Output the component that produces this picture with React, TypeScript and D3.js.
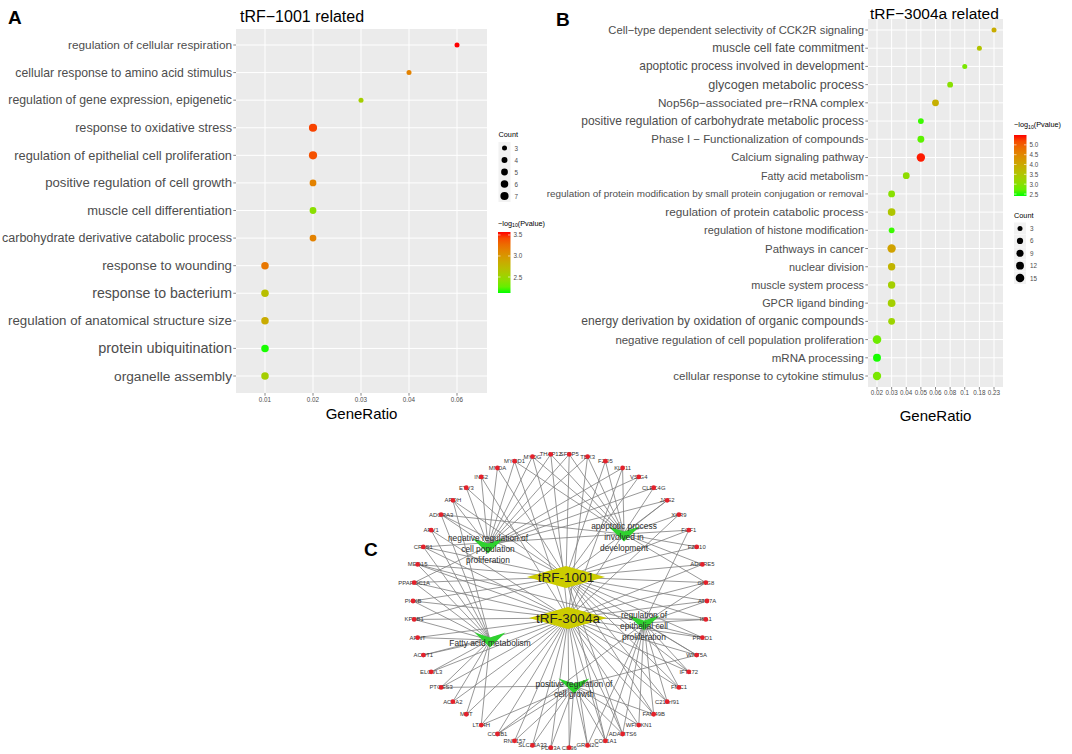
import React from "react";
import * as d3 from "d3";

const FONT = "'Liberation Sans', Arial, Helvetica, sans-serif";

// ---------- panel A : tRF-1001 related ----------
const termsA = [
  "regulation of cellular respiration",
  "cellular response to amino acid stimulus",
  "regulation of gene expression, epigenetic",
  "response to oxidative stress",
  "regulation of epithelial cell proliferation",
  "positive regulation of cell growth",
  "muscle cell differentiation",
  "carbohydrate derivative catabolic process",
  "response to wounding",
  "response to bacterium",
  "regulation of anatomical structure size",
  "protein ubiquitination",
  "organelle assembly",
];
const ratioA = ["0.06", "0.04", "0.03", "0.02", "0.02", "0.02", "0.02", "0.02", "0.01", "0.01", "0.01", "0.01", "0.01"];
const countA = [3, 3, 3, 7, 7, 5, 5, 5, 6, 6, 6, 6, 6];
const logPA = [3.57, 3.14, 2.56, 3.45, 3.4, 3.14, 2.41, 3.14, 3.21, 2.7, 2.85, 2.13, 2.56];
const ratioTicksA = ["0.01", "0.02", "0.03", "0.04", "0.06"];
const countBreaksA = [3, 4, 5, 6, 7];
const colorBreaksA = [2.5, 3.0, 3.5];

// ---------- panel B : tRF-3004a related ----------
const termsB = [
  "Cell\u2212type dependent selectivity of CCK2R signaling",
  "muscle cell fate commitment",
  "apoptotic process involved in development",
  "glycogen metabolic process",
  "Nop56p\u2212associated pre\u2212rRNA complex",
  "positive regulation of carbohydrate metabolic process",
  "Phase I \u2212 Functionalization of compounds",
  "Calcium signaling pathway",
  "Fatty acid metabolism",
  "regulation of protein modification by small protein conjugation or removal",
  "regulation of protein catabolic process",
  "regulation of histone modification",
  "Pathways in cancer",
  "nuclear division",
  "muscle system process",
  "GPCR ligand binding",
  "energy derivation by oxidation of organic compounds",
  "negative regulation of cell population proliferation",
  "mRNA processing",
  "cellular response to cytokine stimulus",
];
const ratioB = ["0.23", "0.18", "0.1", "0.08", "0.06", "0.05", "0.05", "0.05", "0.04", "0.03",
  "0.03", "0.03", "0.03", "0.03", "0.03", "0.03", "0.03", "0.02", "0.02", "0.02"];
const countB = [3, 3, 3, 5, 8, 5, 8, 14, 8, 8, 11, 5, 14, 10, 10, 11, 8, 15, 12, 14];
const logPB = [3.95, 3.55, 2.87, 3.0, 3.9, 2.5, 2.65, 5.45, 3.08, 3.0, 3.5, 2.5, 4.1, 3.8, 3.33, 3.33, 3.24, 2.77, 2.42, 2.87];
const ratioTicksB = ["0.02", "0.03", "0.04", "0.05", "0.06", "0.08", "0.1", "0.18", "0.23"];
const countBreaksB = [3, 6, 9, 12, 15];
const colorBreaksB = [2.5, 3.0, 3.5, 4.0, 4.5, 5.0];

// ---------- panel C : network ----------
const genes = [
  "PI4KB", "PPARGC1A", "MED15", "CRLS1", "ARV1", "ADORA3", "APOH", "ETV3", "ING2", "MNDA",
  "MYOD1", "MYOG", "THAP12", "SFRP5", "TBX3", "FZD5", "KLF11", "VSIG4", "CLEC4G", "JAG2",
  "XKR9", "FGF1", "FZD10", "ADGRE5", "GNG8", "ATP7A", "ISL1", "PRKD1", "WNT5A", "IFT172",
  "FMC1", "C21orf91", "FAM49B", "WFIKKN1", "ADAMTS6", "COL1A1", "GRIN2C", "CD36", "PDE3A", "SLC25A33",
  "RNF157", "CCNB1", "LTA4H", "MUT", "ACAA2", "PTGES3", "ELOVL3", "ACOT1", "ARNT", "KPNB1",
];
const tRF1001Targets = ["MED15", "CRLS1", "ADORA3", "APOH", "ETV3", "MNDA", "MYOG", "SFRP5", "FZD5", "VSIG4",
  "JAG2", "FGF1", "FZD10", "ADGRE5", "GNG8", "ATP7A", "ISL1", "PRKD1", "WNT5A", "IFT172", "FMC1",
  "C21orf91", "FAM49B", "ADAMTS6", "COL1A1", "PPARGC1A", "PI4KB", "KPNB1"];
const tRF3004aTargets = ["PI4KB", "KPNB1", "ARNT", "ACOT1", "ELOVL3", "PTGES3", "ACAA2", "MUT", "LTA4H", "CCNB1",
  "RNF157", "SLC25A33", "PDE3A", "CD36", "GRIN2C", "COL1A1", "ADAMTS6", "WFIKKN1", "FAM49B", "C21orf91",
  "FMC1", "IFT172", "WNT5A", "PRKD1", "ISL1", "ATP7A", "GNG8", "ADGRE5", "XKR9", "CLEC4G", "KLF11",
  "TBX3", "THAP12", "MYOD1", "ING2", "ARV1", "CRLS1", "MED15", "PPARGC1A"];
const negRegGenes = ["PPARGC1A", "ADORA3", "APOH", "ETV3", "ING2", "MNDA", "MYOD1", "MYOG", "THAP12", "TBX3",
  "KLF11", "VSIG4", "CLEC4G", "JAG2", "SFRP5"];
const apoptoticGenes = ["MYOD1", "MYOG", "THAP12", "SFRP5", "TBX3", "FZD5", "KLF11", "JAG2", "XKR9", "FGF1",
  "FZD10", "ADGRE5", "GNG8", "CRLS1", "ADORA3"];
const fattyGenes = ["ARV1", "CRLS1", "MED15", "PPARGC1A", "PI4KB", "KPNB1", "ARNT", "ACOT1", "ELOVL3", "PTGES3",
  "ACAA2", "MUT", "LTA4H", "APOH", "ADORA3"];
const epithelialGenes = ["ATP7A", "ISL1", "PRKD1", "WNT5A", "IFT172", "FMC1", "C21orf91", "FAM49B", "WFIKKN1",
  "ADAMTS6", "COL1A1", "GRIN2C", "GNG8", "FGF1", "MED15", "CCNB1"];
const growthGenes = ["RNF157", "SLC25A33", "PDE3A", "CD36", "GRIN2C", "COL1A1", "ADAMTS6", "WFIKKN1", "CCNB1",
  "LTA4H", "WNT5A", "PTGES3", "FAM49B"];

// hub nodes: label lines, kind, the genes they link to
const hubs = [
  { id: "negReg", lines: ["negative regulation of", "cell population", "proliferation"], kind: "go", genes: negRegGenes },
  { id: "apoptotic", lines: ["apoptotic process", "involved in", "development"], kind: "go", genes: apoptoticGenes },
  { id: "fatty", lines: ["Fatty acid metabolism"], kind: "go", genes: fattyGenes },
  { id: "epithelial", lines: ["regulation of", "epithelial cell", "proliferation"], kind: "go", genes: epithelialGenes },
  { id: "growth", lines: ["positive regulation of", "cell growth"], kind: "go", genes: growthGenes },
  { id: "tRF-1001", lines: ["tRF-1001"], kind: "trf", genes: tRF1001Targets },
  { id: "tRF-3004a", lines: ["tRF-3004a"], kind: "trf", genes: tRF3004aTargets },
];

// ---------- layout / style ----------
const labelWidthA = [164, 217, 224, 157, 218, 187, 145, 230, 130, 140, 224, 134, 118];
const labelWidthB = [256, 152, 225, 156, 207, 283, 213, 133, 103, 318, 199, 160, 99, 75, 113, 102, 283, 249, 93, 191];

const ring = { cx: 560, cy: 601, r: 147 };
// hub offsets from the ring centre
const hubLayout: Record<string, [number, number]> = {
  negReg: [-72, -55],
  apoptotic: [64, -67],
  fatty: [-70, 39],
  epithelial: [84, 22],
  growth: [14, 85],
  "tRF-1001": [6, -24],
  "tRF-3004a": [8, 17],
};

let measureCtx: CanvasRenderingContext2D | null = null;
function fitSize(text: string, width: number): number {
  if (!measureCtx) measureCtx = document.createElement("canvas").getContext("2d");
  if (!measureCtx) return 12;
  measureCtx.font = `100px ${FONT}`;
  const w = measureCtx.measureText(text).width;
  return (100 * width) / w;
}

const vSymbol = (w: number, h: number): d3.SymbolType => ({
  draw(ctx) {
    ctx.moveTo(-w / 2, -h / 2);
    ctx.lineTo(0, -h / 6);
    ctx.lineTo(w / 2, -h / 2);
    ctx.lineTo(0, h / 2);
    ctx.closePath();
  },
});
const diamondSymbol = (w: number, h: number): d3.SymbolType => ({
  draw(ctx) {
    ctx.moveTo(-w / 2, 0);
    ctx.lineTo(0, -h / 2);
    ctx.lineTo(w / 2, 0);
    ctx.lineTo(0, h / 2);
    ctx.closePath();
  },
});

interface DotPanelProps {
  id: string;
  letter: string;
  letterPos: [number, number];
  title: string;
  titlePos: [number, number];
  titleSize: number;
  terms: string[];
  ratios: string[];
  counts: number[];
  logp: number[];
  ticks: string[];
  widths: number[];
  panel: { left: number; right: number; top: number; bottom: number };
  rowRange: [number, number];
  xRange: [number, number];
  tickLabelY: number;
  xTitleY: number;
  rScale: d3.ScalePower<number, number>;
  color: d3.ScaleLinear<string, string>;
  colorBreaks: number[];
  countBreaks: number[];
  colorLegend: { x: number; titleY: number; top: number; bottom: number };
  countLegend: { x: number; titleY: number; top: number; bottom: number };
}

function DotPanel(p: DotPanelProps) {
  const y = d3.scalePoint<string>().domain(p.terms).range(p.rowRange);
  const x = d3.scalePoint<string>().domain(p.ticks).range(p.xRange);
  const grey30 = "#4d4d4d";
  const cDomain = p.color.domain();
  const barY = d3.scaleLinear().domain(cDomain).range([p.colorLegend.bottom, p.colorLegend.top]);
  const keyY = d3.scalePoint<number>().domain(p.countBreaks).range([p.countLegend.top, p.countLegend.bottom]);
  const gradId = `grad-${p.id}`;
  const stops = d3.range(0, 1.0001, 0.1);
  const cl = p.colorLegend;
  const ck = p.countLegend;
  return (
    <g>
      <defs>
        <linearGradient id={gradId} x1="0" y1="1" x2="0" y2="0">
          {stops.map((t) => (
            <stop key={t} offset={t} stopColor={p.color(cDomain[0] + t * (cDomain[1] - cDomain[0]))} />
          ))}
        </linearGradient>
      </defs>
      <text x={p.letterPos[0]} y={p.letterPos[1]} fontSize={19} fontWeight="bold" fontFamily={FONT}>
        {p.letter}
      </text>
      <text x={p.titlePos[0]} y={p.titlePos[1]} fontSize={p.titleSize} fontFamily={FONT}>
        {p.title}
      </text>
      <rect
        x={p.panel.left}
        y={p.panel.top}
        width={p.panel.right - p.panel.left}
        height={p.panel.bottom - p.panel.top}
        fill="#ebebeb"
      />
      {p.terms.map((t) => (
        <line key={t} x1={p.panel.left} x2={p.panel.right} y1={y(t)} y2={y(t)} stroke="#fff" strokeWidth={1} />
      ))}
      {p.ticks.map((t) => (
        <line key={t} x1={x(t)} x2={x(t)} y1={p.panel.top} y2={p.panel.bottom} stroke="#fff" strokeWidth={1} />
      ))}
      {p.terms.map((t, i) => (
        <circle key={t} cx={x(p.ratios[i])} cy={y(t)} r={p.rScale(p.counts[i])} fill={p.color(p.logp[i])} />
      ))}
      {/* y axis */}
      {p.terms.map((t, i) => (
        <g key={t}>
          <line x1={p.panel.left - 2.7} x2={p.panel.left} y1={y(t)} y2={y(t)} stroke="#333" strokeWidth={0.6} />
          <text
            x={p.panel.left - 4}
            y={y(t)}
            textAnchor="end"
            dominantBaseline="central"
            fontSize={fitSize(t, p.widths[i])}
            fill={grey30}
            fontFamily={FONT}
          >
            {t}
          </text>
        </g>
      ))}
      {/* x axis */}
      {p.ticks.map((t) => (
        <g key={t}>
          <line x1={x(t)} x2={x(t)} y1={p.panel.bottom} y2={p.panel.bottom + 2.7} stroke="#333" strokeWidth={0.6} />
          <text x={x(t)} y={p.tickLabelY} textAnchor="middle" fontSize={6.3} fill={grey30} fontFamily={FONT}>
            {t}
          </text>
        </g>
      ))}
      <text
        x={(p.panel.left + p.panel.right) / 2}
        y={p.xTitleY}
        textAnchor="middle"
        fontSize={15}
        fontFamily={FONT}
      >
        GeneRatio
      </text>
      {/* colour legend */}
      <text x={cl.x} y={cl.titleY} fontSize={7.3} fontFamily={FONT}>
        <tspan>{"\u2212log"}</tspan>
        <tspan fontSize={5.2} dy={1.8}>
          10
        </tspan>
        <tspan dy={-1.8}>(Pvalue)</tspan>
      </text>
      <rect x={cl.x} y={cl.top} width={12.5} height={cl.bottom - cl.top} fill={`url(#${gradId})`} />
      {p.colorBreaks.map((b) => (
        <g key={b}>
          <line x1={cl.x} x2={cl.x + 2.5} y1={barY(b)} y2={barY(b)} stroke="#fff" strokeWidth={0.6} />
          <line x1={cl.x + 10} x2={cl.x + 12.5} y1={barY(b)} y2={barY(b)} stroke="#fff" strokeWidth={0.6} />
          <text x={cl.x + 15.5} y={barY(b)} dominantBaseline="central" fontSize={6.3} fill={grey30} fontFamily={FONT}>
            {b.toFixed(1)}
          </text>
        </g>
      ))}
      {/* size legend */}
      <text x={ck.x} y={ck.titleY} fontSize={7.3} fontFamily={FONT}>
        Count
      </text>
      {p.countBreaks.map((b) => (
        <g key={b}>
          <rect x={ck.x} y={(keyY(b) ?? 0) - 6} width={12} height={12} fill="#f2f2f2" />
          <circle cx={ck.x + 6} cy={keyY(b)} r={p.rScale(b)} fill="#000" />
          <text x={ck.x + 16} y={keyY(b)} dominantBaseline="central" fontSize={6.3} fill={grey30} fontFamily={FONT}>
            {b}
          </text>
        </g>
      ))}
    </g>
  );
}

function Network() {
  const angle = d3.scaleLinear().domain([0, genes.length]).range([Math.PI, 3 * Math.PI]);
  const genePos = new Map<string, [number, number]>();
  genes.forEach((g, i) => {
    genePos.set(g, [ring.cx + ring.r * Math.cos(angle(i)), ring.cy + ring.r * Math.sin(angle(i))]);
  });
  const hubPos = (id: string): [number, number] => [ring.cx + hubLayout[id][0], ring.cy + hubLayout[id][1]];
  const edges: { s: [number, number]; t: [number, number]; k: string }[] = [];
  hubs.forEach((h) => {
    h.genes.forEach((g) => {
      const gp = genePos.get(g);
      if (gp) edges.push({ s: hubPos(h.id), t: gp, k: `${h.id}-${g}` });
    });
  });
  const vPath = d3.symbol().type(vSymbol(31, 15))() ?? "";
  const dPath = d3.symbol().type(diamondSymbol(78, 22))() ?? "";
  const goHubs = hubs.filter((h) => h.kind === "go");
  const trfHubs = hubs.filter((h) => h.kind === "trf");
  return (
    <g>
      <text x={364} y={556} fontSize={19} fontWeight="bold" fontFamily={FONT}>
        C
      </text>
      {edges.map((e) => (
        <line key={e.k} x1={e.s[0]} y1={e.s[1]} x2={e.t[0]} y2={e.t[1]} stroke="#7d7d7d" strokeWidth={0.8} />
      ))}
      {genes.map((g) => {
        const [gx, gy] = genePos.get(g)!;
        return (
          <g key={g}>
            <text x={gx} y={gy} textAnchor="middle" dominantBaseline="central" fontSize={5.9} fill="#333" fontFamily={FONT}>
              {g}
            </text>
            <circle cx={gx} cy={gy} r={2.4} fill="#e4212b" />
          </g>
        );
      })}
      {goHubs.map((h) => {
        const [hx, hy] = hubPos(h.id);
        return <path key={h.id} d={vPath} transform={`translate(${hx},${hy})`} fill="#2fd12f" />;
      })}
      {goHubs.map((h) => {
        const [hx, hy] = hubPos(h.id);
        const n = h.lines.length;
        return (
          <text key={h.id} textAnchor="middle" fontSize={8.4} fill="#2a2a2a" fontFamily={FONT}>
            {h.lines.map((l, i) => (
              <tspan key={l} x={hx} y={hy + 3 + (i - (n - 1) / 2) * 10.7} dominantBaseline="central">
                {l}
              </tspan>
            ))}
          </text>
        );
      })}
      {trfHubs.map((h) => {
        const [hx, hy] = hubPos(h.id);
        return (
          <g key={h.id} transform={`translate(${hx},${hy})`}>
            <path d={dPath} fill="#cccc00" />
            <text textAnchor="middle" dominantBaseline="central" fontSize={13.5} fill="#222" fontFamily={FONT}>
              {h.lines[0]}
            </text>
          </g>
        );
      })}
    </g>
  );
}

export default function App() {
  const colorA = d3
    .scaleLinear<string>()
    .domain([2.12, 3.57])
    .range(["#00ff00", "#ff0000"])
    .interpolate(d3.interpolateLab)
    .clamp(true);
  const colorB = d3
    .scaleLinear<string>()
    .domain([2.4, 5.5])
    .range(["#00ff00", "#ff0000"])
    .interpolate(d3.interpolateLab)
    .clamp(true);
  const rA = d3.scaleSqrt().domain([3, 7]).range([2.5, 4.1]);
  const rB = d3.scaleSqrt().domain([3, 15]).range([2.5, 4.3]);

  return (
    <svg
      width={1072}
      height={754}
      viewBox="0 0 1072 754"
      style={{ position: "absolute", left: 0, top: 0, background: "#fff" }}
    >
      <rect width={1072} height={754} fill="#fff" />
      <DotPanel
        id="a"
        letter="A"
        letterPos={[8, 24]}
        title={"tRF\u22121001 related"}
        titlePos={[240, 21.5]}
        titleSize={16}
        terms={termsA}
        ratios={ratioA}
        counts={countA}
        logp={logPA}
        ticks={ratioTicksA}
        widths={labelWidthA}
        panel={{ left: 236, right: 487, top: 29, bottom: 393 }}
        rowRange={[45, 376]}
        xRange={[265, 457]}
        tickLabelY={401.5}
        xTitleY={418.5}
        rScale={rA}
        color={colorA}
        colorBreaks={colorBreaksA}
        countBreaks={countBreaksA}
        colorLegend={{ x: 498, titleY: 225.5, top: 232, bottom: 293 }}
        countLegend={{ x: 498.5, titleY: 136.5, top: 148, bottom: 196 }}
      />
      <DotPanel
        id="b"
        letter="B"
        letterPos={[556, 25.5]}
        title={"tRF\u22123004a related"}
        titlePos={[870, 18.5]}
        titleSize={15.5}
        terms={termsB}
        ratios={ratioB}
        counts={countB}
        logp={logPB}
        ticks={ratioTicksB}
        widths={labelWidthB}
        panel={{ left: 868, right: 1003, top: 19, bottom: 387 }}
        rowRange={[30, 376]}
        xRange={[877, 994]}
        tickLabelY={395}
        xTitleY={420.5}
        rScale={rB}
        color={colorB}
        colorBreaks={colorBreaksB}
        countBreaks={countBreaksB}
        colorLegend={{ x: 1014, titleY: 127, top: 135, bottom: 196 }}
        countLegend={{ x: 1014, titleY: 217.5, top: 228.5, bottom: 278 }}
      />
      <Network />
    </svg>
  );
}
